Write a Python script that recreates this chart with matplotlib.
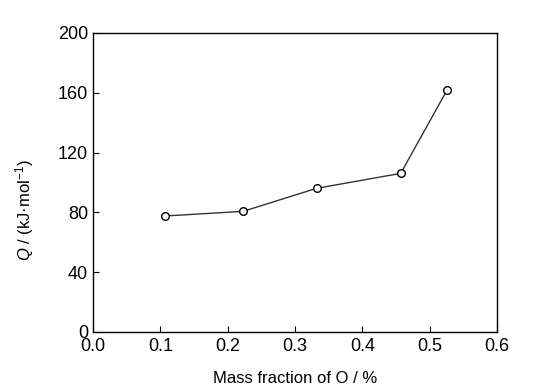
import matplotlib
matplotlib.use("Agg")
import matplotlib.pyplot as plt

plt.rcParams['font.family'] = ['Liberation Sans', 'DejaVu Sans']
plt.rcParams['mathtext.fontset'] = 'custom'
plt.rcParams['mathtext.rm'] = 'Liberation Sans'
plt.rcParams['mathtext.it'] = 'Liberation Sans:italic'

# data
mass_fraction = [0.107, 0.223, 0.332, 0.457, 0.526]
q_values = [77.6, 80.7, 96.1, 106.1, 162.0]

x_ticks = [0.0, 0.1, 0.2, 0.3, 0.4, 0.5, 0.6]
y_ticks = [0, 40, 80, 120, 160, 200]

fig = plt.figure(figsize=(5.35, 3.9), dpi=100)
ax = fig.add_axes([93/535, 1 - 332/390, 404/535, 299/390])

ax.plot(mass_fraction, q_values, color='#333333', linewidth=1.0,
        marker='o', markersize=5.5, markerfacecolor='white',
        markeredgecolor='black', markeredgewidth=1.0)

ax.set_xlim(0, 0.6)
ax.set_ylim(0, 200)
ax.set_xticks(x_ticks)
ax.set_yticks(y_ticks)
ax.set_xticklabels([f'{v:.1f}' for v in x_ticks])
ax.tick_params(direction='in', length=4.5, width=0.8, labelsize=13,
               colors='black', top=False, right=False)
ax.tick_params(axis='x', pad=4)
ax.tick_params(axis='y', pad=3.5)
for s in ax.spines.values():
    s.set_linewidth(1.0)

ax.set_xlabel('Mass fraction of O / %', fontsize=12)
ax.xaxis.set_label_coords(0.5, -0.13)
ax.set_ylabel(r'$\mathit{Q}$ / (kJ·mol$^{-1}$)', fontsize=12)
ax.yaxis.set_label_coords(-0.141, 0.408)

fig.savefig('out.png', dpi=100)
